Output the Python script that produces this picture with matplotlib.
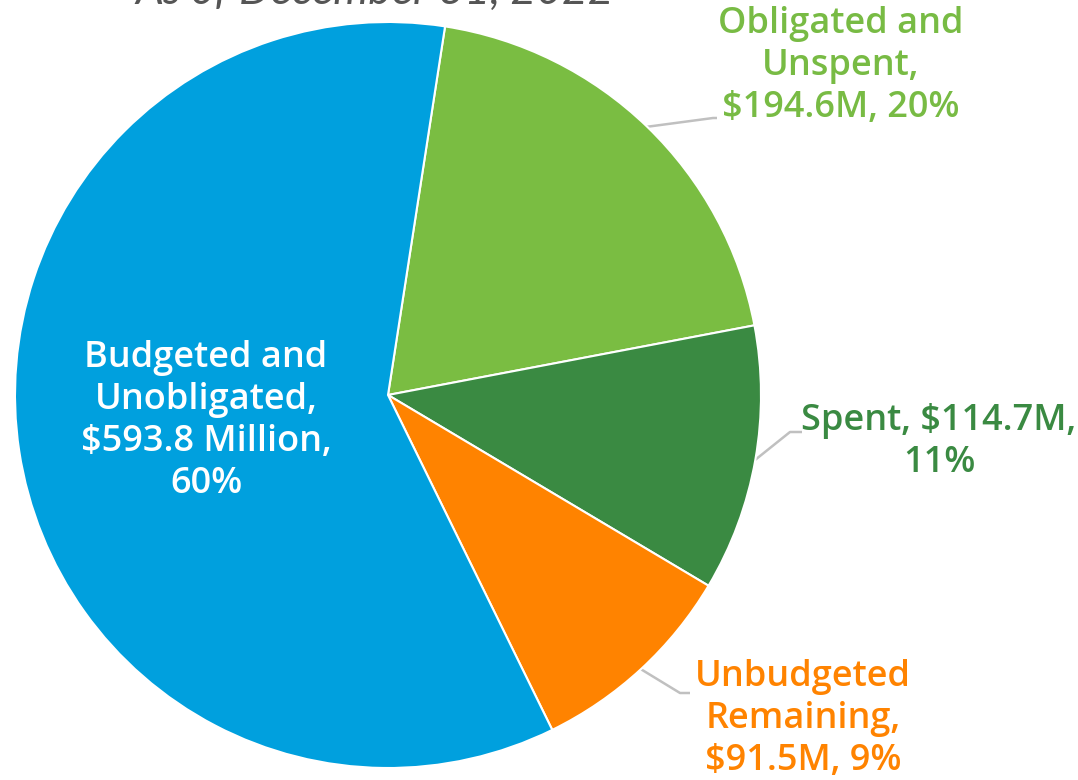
import numpy as np
import matplotlib
matplotlib.use('Agg')
from matplotlib import pyplot as plt

labels = ['Obligated and\nUnspent,\n$194.6M, 20%',
          'Spent, $114.7M,\n11%',
          'Unbudgeted\nRemaining,\n$91.5M, 9%',
          'Budgeted and\nUnobligated,\n$593.8 Million,\n60%']
values = [194.6, 114.7, 91.5, 593.8]
colors = ['#7abd42', '#3a8a42', '#ff8300', '#00a0de']
text_colors = ['#78bb44', '#3a8a42', '#ff8300', 'white']
title = 'As of December 31, 2022'

W, H = 1078, 780
fig = plt.figure(figsize=(W / 100, H / 100), dpi=100)
ax = fig.add_axes([0, 0, 1, 1])

cx, cy, r = 388, 385, 373
start = 81.2
wedges, _ = ax.pie(values, colors=colors, startangle=start, counterclock=False,
                   center=(cx, cy), radius=r, frame=True,
                   wedgeprops=dict(edgecolor='white', linewidth=1.5))
ax.set_xlim(0, W)
ax.set_ylim(0, H)
ax.axis('off')

font = dict(family='Open Sans', fontsize=26, fontweight='semibold', ha='center', va='center',
            linespacing=1.22)

# label centres (pixels from top-left) and leader elbows
label_pos = [(841, 66), (939, 442), (803, 719), (206, 421)]
elbows = [((713, 118), (717, 118)), ((790, 432), (802, 432)), ((680, 693), (690, 693)), None]

for w, lab, tc, (lx, ly), el in zip(wedges, labels, text_colors, label_pos, elbows):
    ax.text(lx, H - ly, lab, color=tc, **font)
    if el is None:
        continue
    mid = np.deg2rad((w.theta1 + w.theta2) / 2)
    sx, sy = cx + r * np.cos(mid), cy + r * np.sin(mid)
    (ex, ey), (fx, fy) = el
    ax.plot([sx, ex, fx], [sy, H - ey, H - fy], color='#c0c0c0', lw=1.8,
            solid_capstyle='butt', zorder=0)

ax.text(375, H - 4, title, family='Lato', fontstyle='italic', fontweight='normal',
        fontsize=32, color='#555555', ha='center', va='baseline')

fig.savefig('out.png', dpi=100)
